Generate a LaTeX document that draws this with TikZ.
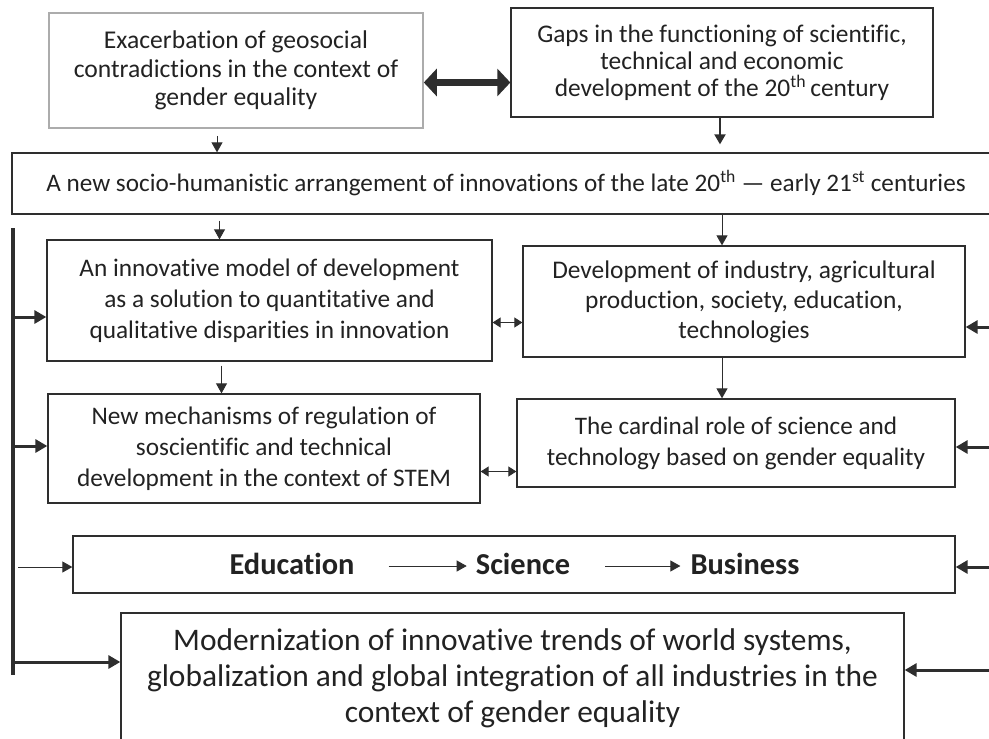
\documentclass[tikz,border=0pt]{standalone}
\usepackage{fontspec}
\setmainfont{Carlito}[Ligatures=NoCommon]
\usetikzlibrary{arrows.meta}

\definecolor{boxline}{HTML}{2E2E2E}
\definecolor{inktext}{HTML}{222222}

\tikzset{
  block/.style={draw=boxline, line width=1.3pt, align=center, inner sep=0pt, text=inktext},
  flow/.style={draw=boxline, line width=0.9pt, -{Triangle[length=10pt,width=11pt]}},
  twoway/.style={draw=boxline, line width=0.9pt, {Triangle[length=8pt,width=10pt]}-{Triangle[length=8pt,width=10pt]}},
  feed/.style={draw=boxline, line width=3pt, -{Triangle[length=12pt,width=13pt]}},
  step word/.style={text=inktext, font=\fontsize{30.4}{34}\selectfont\bfseries, inner sep=0pt, text height=17pt, text depth=0pt},
}

\begin{document}
\begin{tikzpicture}[x=1pt, y=-1pt]
  \useasboundingbox (0,0) rectangle (989,739);
  \clip (0,0) rectangle (989,739);

  % top row
  \node[block, draw=gray!65, line width=1.6pt, minimum width=374pt, minimum height=115pt,
        font=\fontsize{25.6}{28.5}\selectfont] (exac) at (236,70.5)
    {Exacerbation of geosocial\\contradictions in the context of\\gender equality};
  \node[block, minimum width=422pt, minimum height=109pt,
        font=\fontsize{25.4}{27}\selectfont] (gaps) at (722,62.5)
    {Gaps in the functioning of scientific,\\technical and economic\\development of the 20\textsuperscript{th}\,century};
  \node[block, minimum width=988pt, minimum height=61pt,
        font=\fontsize{25.2}{26}\selectfont] (arrange) at (506,183.5)
    {A new socio-humanistic arrangement of innovations of the late 20\textsuperscript{th} --- early 21\textsuperscript{st} centuries};

  % middle rows
  \node[block, minimum width=445pt, minimum height=121pt,
        font=\fontsize{25.3}{31}\selectfont] (model) at (269.5,300.5)
    {An innovative model of development\\as a solution to quantitative and\\qualitative disparities in innovation};
  \node[block, minimum width=442pt, minimum height=111pt,
        font=\fontsize{25.4}{30}\selectfont] (devel) at (744,301.5)
    {Development of industry, agricultural\\production, society, education,\\technologies};
  \node[block, minimum width=432pt, minimum height=109pt,
        font=\fontsize{25.3}{31}\selectfont] (mech) at (264,448.5)
    {New mechanisms of regulation of\\soscientific and technical\\development in the context of STEM};
  \node[block, minimum width=438pt, minimum height=88pt,
        font=\fontsize{25.2}{31}\selectfont] (cardinal) at (736,443)
    {The cardinal role of science and\\technology based on gender equality};

  % chain and bottom box
  \node[block, minimum width=882pt, minimum height=57pt] (chain) at (514,564.5) {};
  \node[step word] (edu) at (292,566) {Education};
  \node[step word] (sci) at (523,566) {Science};
  \node[step word] (bus) at (745,566) {Business};
  \node[block, minimum width=783pt, minimum height=130pt,
        font=\fontsize{31.4}{36}\selectfont] (modern) at (512.5,678)
    {Modernization of innovative trends of world systems,\\globalization and global integration of all industries in the\\context of gender equality};

  % downward flow
  \draw[draw=boxline, line width=7pt, {Triangle[length=13pt,width=27pt]}-{Triangle[length=13pt,width=27pt]}]
    ([yshift=-12pt]exac.east) -- ([yshift=-12pt]exac.east -| gaps.west);
  \draw[flow, shorten <=7pt] ([xshift=-19pt]exac.south) -- ([xshift=-19pt]exac.south |- arrange.north);
  \draw[flow, line width=2pt, shorten >=8pt] ([xshift=-2pt]gaps.south) -- ([xshift=-2pt]gaps.south |- arrange.north);
  \draw[flow, shorten <=6pt] ([xshift=-50pt]model.north |- arrange.south) -- ([xshift=-50pt]model.north);
  \draw[flow] ([xshift=-22pt]devel.north |- arrange.south) -- ([xshift=-22pt]devel.north);
  \draw[flow, shorten <=4pt] ([xshift=-48pt]model.south) -- ([xshift=-48pt]model.south |- mech.north);
  \draw[flow] ([xshift=-22pt]devel.south) -- ([xshift=-22pt]devel.south |- cardinal.north);
  \draw[twoway] ([yshift=-22pt]model.east) -- ([yshift=-22pt]model.east -| devel.west);
  \draw[twoway] ([yshift=-23pt]mech.east) -- ([yshift=-23pt]mech.east -| cardinal.west);
  \draw[flow, shorten <=34pt, shorten >=9pt] (edu) -- (sci);
  \draw[flow, shorten <=35pt, shorten >=10pt] (sci) -- (bus);

  % left bus
  \coordinate (barTop) at (13,228);
  \coordinate (barBot) at (13,675);
  \coordinate (tapModel) at (13,317);
  \coordinate (tapMech) at (13,446);
  \coordinate (tapChain) at (18,567);
  \coordinate (tapModern) at (13,662);
  \draw[draw=boxline, line width=4pt] (barTop) -- (barBot);
  \draw[feed] (tapModel) -- (tapModel -| model.west);
  \draw[feed] (tapMech) -- (tapMech -| mech.west);
  \draw[flow] (tapChain) -- (tapChain -| chain.west);
  \draw[feed] (tapModern) -- (tapModern -| modern.west);

  % right feeds
  \coordinate (inDevel) at (995,327);
  \coordinate (inCardinal) at (995,447);
  \coordinate (inChain) at (995,567);
  \coordinate (inModern) at (995,670);
  \draw[feed] (inDevel) -- (inDevel -| devel.east);
  \draw[feed] (inCardinal) -- (inCardinal -| cardinal.east);
  \draw[feed] (inChain) -- (inChain -| chain.east);
  \draw[feed] (inModern) -- (inModern -| modern.east);
\end{tikzpicture}
\end{document}
